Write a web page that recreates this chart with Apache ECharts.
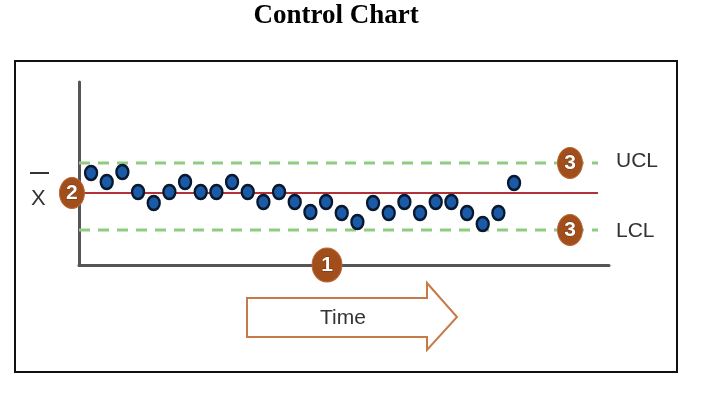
<!DOCTYPE html>
<html>
<head>
<meta charset="utf-8">
<script src="https://cdn.jsdelivr.net/npm/echarts@6/dist/echarts.min.js"></script>
<style>html,body{margin:0;padding:0;background:#fff}#c{width:718px;height:394px}</style>
</head>
<body>
<div id="c"></div>
<script>
// Sample number (time order)
var samples = [1,2,3,4,5,6,7,8,9,10,11,12,13,14,15,16,17,18,19,20,21,22,23,24,25,26,27,28];
// Measured values
var values = [9.2,8.3,9.3,7.3,6.2,7.3,8.3,7.3,7.3,8.3,7.3,6.3,7.3,6.3,5.3,6.3,5.2,4.3,6.2,5.2,6.3,5.2,6.3,6.3,5.2,4.1,5.2,8.2];
// Control limits
var centerLine = 7.2;
var ucl = 10.2;
var lcl = 3.5;
// Horizontal extent of the limit lines (in sample units)
var limitStart = 0.23;
var limitEnd = 33.36;
// Numbered badges: [x, y, label]
var badges = [[-0.22, 7.2, '2'], [31.57, 10.2, '3'], [31.57, 3.5, '3'], [16.06, 0, '1']];
// Side labels
var limitLabels = ['UCL', 'LCL'];

var chart = echarts.init(document.getElementById('c'));
var pts = samples.map(function (s, i) { return [s, values[i]]; });
var option = {
  animation: false,
  backgroundColor: '#fff',
  grid: { left: 79, right: 109, top: 82, bottom: 129 },
  xAxis: {
    type: 'value', min: 0.23, max: 34.06,
    axisLine: { onZero: false, lineStyle: { color: '#555', width: 3 } },
    axisTick: { show: false }, axisLabel: { show: false }, splitLine: { show: false }
  },
  yAxis: {
    type: 'value', min: 0, max: 18.3,
    axisLine: { show: true, lineStyle: { color: '#555', width: 3 } },
    axisTick: { show: false }, axisLabel: { show: false }, splitLine: { show: false }
  },
  series: [
    { type: 'line', data: [[limitStart, ucl], [limitEnd, ucl]], symbol: 'none', silent: true,
      lineStyle: { color: '#8fcc7e', width: 3, type: [11, 8], opacity: 1 }, z: 1 },
    { type: 'line', data: [[limitStart, lcl], [limitEnd, lcl]], symbol: 'none', silent: true,
      lineStyle: { color: '#8fcc7e', width: 3, type: [11, 8], opacity: 1 }, z: 1 },
    { type: 'line', data: [[limitStart, centerLine], [limitEnd, centerLine]], symbol: 'none', silent: true,
      lineStyle: { color: '#b3323a', width: 2, opacity: 1 }, z: 1 },
    { type: 'scatter', data: pts, symbol: 'circle', symbolSize: [12, 14],
      itemStyle: { color: '#1a5aa6', borderColor: '#08182e', borderWidth: 2.5, opacity: 1 }, z: 3 },
    { type: 'scatter', data: badges, clip: false, symbol: 'circle',
      symbolSize: function (v) { return v[2] === '1' ? [30, 34] : [25, 31]; },
      itemStyle: { color: '#a14e1a', borderColor: '#b8683a', borderWidth: 1, opacity: 1 }, z: 4,
      label: { show: true, position: 'inside', formatter: function (p) { return p.data[2]; },
        color: '#fff', fontFamily: 'Liberation Sans', fontWeight: 'bold', fontSize: 21,
        textBorderColor: '#6e3410', textBorderWidth: 1 } }
  ],
  graphic: [
    { type: 'rect', shape: { x: 15, y: 61, width: 662, height: 311 },
      style: { fill: null, stroke: '#111', lineWidth: 2 }, z: 0 },
    { type: 'text', x: 336, y: 16, style: { text: 'Control Chart', font: 'bold 27px "Liberation Serif"', fill: '#000', align: 'center', verticalAlign: 'middle' } },
    { type: 'text', left: 616, top: 151, style: { text: limitLabels[0], font: '21px "Liberation Sans"', fill: '#333' } },
    { type: 'text', left: 616, top: 221, style: { text: limitLabels[1], font: '21px "Liberation Sans"', fill: '#333' } },
    { type: 'text', left: 31, top: 188, style: { text: 'X', font: '22px "Liberation Sans"', fill: '#333' } },
    { type: 'line', shape: { x1: 30, y1: 173, x2: 49, y2: 173 }, style: { stroke: '#333', lineWidth: 2 } },
    { type: 'polygon', shape: { points: [[247, 298], [427, 298], [427, 283], [457, 317], [427, 350], [427, 337], [247, 337]] },
      style: { fill: '#fff', stroke: '#c77a48', lineWidth: 2 } },
    { type: 'text', left: 320, top: 308, style: { text: 'Time', font: '21px "Liberation Sans"', fill: '#333' } }
  ]
};
chart.setOption(option);
</script>
</body>
</html>
